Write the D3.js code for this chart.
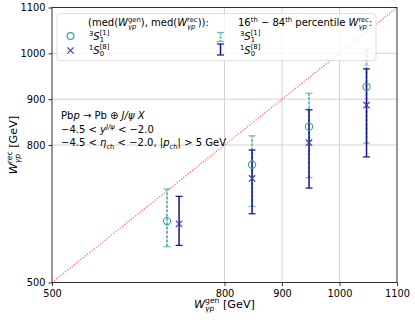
<!DOCTYPE html>
<html>
<head>
<meta charset="utf-8">
<script src="https://cdn.jsdelivr.net/npm/d3@7"></script>
<style>
  body { margin: 0; background: #fff; }
  svg { font-family: "DejaVu Sans", sans-serif; }
</style>
</head>
<body>
<div class="chart"></div>
<script>
// W_gen vs W_rec medians with 16-84 percentile bars
var svgWidth = 415;
var svgHeight = 320;

var margin = { top: 7.5, right: 18, bottom: 37.5, left: 52 };
var width = svgWidth - margin.left - margin.right;
var height = svgHeight - margin.top - margin.bottom;

// data
var ticks = [500, 800, 900, 1000, 1100];
var gridTicks = [800, 900, 1000];
var diagonal = [500, 1100];

// 3S1[1]
var genCS = [700, 848, 947, 1047];
var recCS = [634, 757, 840, 927];
var lowCS = [578, 666, 729, 804];
var highCS = [704, 820, 913, 1009];

// 1S0[8]
var genCO = [721, 848, 947, 1047];
var recCO = [628, 727, 805, 887];
var lowCO = [581, 650, 706, 774];
var highCO = [688, 789, 877, 966];

var colCS = "#3a9e9e";
var colCSbar = "#6cbaba";
var colCO = "#3b3ba8";
var colCObar = "#12128a";

var svg = d3.select(".chart").append("svg")
  .attr("width", svgWidth)
  .attr("height", svgHeight);

var chartGroup = svg.append("g")
  .attr("transform", `translate(${margin.left}, ${margin.top})`);

var x = d3.scaleLinear().domain([500, 1100]).range([0, width]);
var y = d3.scaleLinear().domain([500, 1100]).range([height, 0]);

// lays out pieces of math text one after another, measuring each one
// part: {t, i (italic), sup, sub, stack (don't advance, next piece sits below)}
function rich(parent, x0, y0, parts, size, anchor) {
  var g = parent.append("g");
  var cx = 0, lastW = 0;
  parts.forEach(function (p) {
    var fs = (p.sup || p.sub) ? size * 0.68 : size;
    var dy = 0;
    if (p.sup) dy = -size * (p.up || 0.45);
    if (p.sub) dy = size * 0.25;
    var t = g.append("text")
      .attr("x", cx).attr("y", dy)
      .attr("font-size", fs)
      .text(p.t);
    if (p.i) t.attr("font-style", "italic");
    var w = t.node().getComputedTextLength();
    if (p.stack) {
      lastW = w;
    } else {
      cx += Math.max(w, lastW);
      lastW = 0;
    }
  });
  var shift = anchor === "middle" ? -cx / 2 : 0;
  g.attr("transform", `translate(${x0 + shift}, ${y0})`);
  return g;
}

// grid
chartGroup.selectAll(".vgrid").data(gridTicks).enter().append("line")
  .attr("x1", d => x(d)).attr("x2", d => x(d))
  .attr("y1", 0).attr("y2", height)
  .attr("stroke", "#d4d4d4").attr("stroke-width", 1);
chartGroup.selectAll(".hgrid").data(gridTicks).enter().append("line")
  .attr("y1", d => y(d)).attr("y2", d => y(d))
  .attr("x1", 0).attr("x2", width)
  .attr("stroke", "#d4d4d4").attr("stroke-width", 1);

// diagonal y = x
chartGroup.append("line")
  .attr("x1", x(diagonal[0])).attr("y1", y(diagonal[0]))
  .attr("x2", x(diagonal[1])).attr("y2", y(diagonal[1]))
  .attr("stroke", "#ff3333").attr("stroke-opacity", 0.8)
  .attr("stroke-width", 1.2).attr("stroke-dasharray", "1.2,1.6");

// error bars
function errorBars(gen, low, high, color, dash, sw) {
  var g = chartGroup.append("g");
  gen.forEach(function (gv, i) {
    g.append("line")
      .attr("x1", x(gv)).attr("x2", x(gv))
      .attr("y1", y(low[i])).attr("y2", y(high[i]))
      .attr("stroke", color).attr("stroke-width", sw)
      .attr("stroke-dasharray", dash);
    [low[i], high[i]].forEach(function (v) {
      g.append("line")
        .attr("x1", x(gv) - 3.5).attr("x2", x(gv) + 3.5)
        .attr("y1", y(v)).attr("y2", y(v))
        .attr("stroke", color).attr("stroke-width", 1.2);
    });
  });
}
errorBars(genCS, lowCS, highCS, colCSbar, "3,1.3", 2);
errorBars(genCO, lowCO, highCO, colCObar, null, 1.5);

// markers
chartGroup.selectAll(".cs").data(genCS).enter().append("circle")
  .attr("cx", d => x(d))
  .attr("cy", (d, i) => y(recCS[i]))
  .attr("r", 3.6)
  .attr("fill", "none").attr("stroke", colCS).attr("stroke-width", 1.1);

function xMark(g, cx, cy, s, color) {
  g.append("path")
    .attr("d", `M${cx - s},${cy - s}L${cx + s},${cy + s}M${cx - s},${cy + s}L${cx + s},${cy - s}`)
    .attr("stroke", color).attr("stroke-width", 1.1).attr("fill", "none");
}
genCO.forEach(function (d, i) {
  xMark(chartGroup, x(d), y(recCO[i]), 3.2, colCO);
});

// axes
var bottomAxis = d3.axisBottom(x).tickValues(ticks).tickFormat(d3.format("d"))
  .tickSize(3.5).tickSizeOuter(0);
var leftAxis = d3.axisLeft(y).tickValues(ticks).tickFormat(d3.format("d"))
  .tickSize(3.5).tickSizeOuter(0);

var xAxis = chartGroup.append("g")
  .attr("transform", `translate(0, ${height})`)
  .call(bottomAxis);
var yAxis = chartGroup.append("g").call(leftAxis);
[xAxis, yAxis].forEach(function (a) {
  a.selectAll("text").attr("font-size", 9.8).attr("fill", "#000")
    .attr("font-family", "DejaVu Sans");
  a.selectAll("line").attr("stroke", "#000").attr("stroke-width", 0.8);
  a.select(".domain").remove();
});
xAxis.selectAll("text").attr("dy", "0.85em");

// spines
chartGroup.append("rect")
  .attr("width", width).attr("height", height)
  .attr("fill", "none").attr("stroke", "#000").attr("stroke-width", 0.8);

// axis labels
var wgen = [{ t: "W", i: true }, { t: "gen", sup: true, stack: true }, { t: "γp", sub: true, i: true }];
var wrec = [{ t: "W", i: true }, { t: "rec", sup: true, stack: true }, { t: "γp", sub: true, i: true }];

rich(svg, margin.left + width / 2, 308, wgen.concat([{ t: "\u00a0[GeV]" }]), 11.2, "middle");
var yl = rich(svg, 0, 0, wrec.concat([{ t: "\u00a0[GeV]" }]), 11.2, "middle");
var ylw = yl.node().getBBox().width;
yl.attr("transform", `translate(17, ${margin.top + height / 2 + ylw / 2}) rotate(-90)`);

// annotation
rich(svg, 61, 119, [{ t: "Pb" }, { t: "p", i: true }, { t: "\u00a0→\u00a0Pb\u00a0⊕\u00a0" },
  { t: "J/ψ\u00a0X", i: true }], 10);
rich(svg, 61, 132.5, [{ t: "−4.5\u00a0<\u00a0" }, { t: "y", i: true },
  { t: "J/ψ", sup: true, i: true, up: 0.38 }, { t: "\u00a0<\u00a0−2.0" }], 10);
rich(svg, 61, 146, [{ t: "−4.5\u00a0<\u00a0" }, { t: "η", i: true }, { t: "ch", sub: true },
  { t: "\u00a0<\u00a0−2.0,\u00a0|" }, { t: "p", i: true }, { t: "ch", sub: true },
  { t: "|\u00a0>\u00a05\u00a0GeV" }], 10);

// legend
var lg = svg.append("g");
lg.append("rect")
  .attr("x", 57).attr("y", 13.5).attr("width", 319).attr("height", 47).attr("rx", 2.5)
  .attr("fill", "#fff").attr("fill-opacity", 0.8)
  .attr("stroke", "#d8d8d8").attr("stroke-width", 0.8);

rich(lg, 88, 26, [{ t: "(med(" }].concat(wgen, [{ t: "),\u00a0med(" }], wrec, [{ t: ")):" }]), 10);
rich(lg, 238, 26, [{ t: "16" }, { t: "th", sup: true }, { t: "\u00a0−\u00a084" }, { t: "th", sup: true },
  { t: "\u00a0percentile\u00a0" }].concat(wrec, [{ t: ":" }]), 10);

function stateLabel(xp, yp, pre, sub, sup) {
  rich(lg, xp, yp, [{ t: pre, sup: true, up: 0.38 }, { t: "S", i: true },
    { t: sup, sup: true, up: 0.5, stack: true }, { t: sub, sub: true }], 10);
}

// legend markers
lg.append("circle").attr("cx", 70.5).attr("cy", 36).attr("r", 3.4)
  .attr("fill", "none").attr("stroke", colCS).attr("stroke-width", 1.1);
xMark(lg, 70.5, 50.5, 3.2, colCO);
stateLabel(89, 39.5, "3", "1", "[1]");
stateLabel(89, 53.5, "1", "0", "[8]");

// legend error bars
function legendBar(cx, y1, y2, color, dash, sw) {
  lg.append("line").attr("x1", cx).attr("x2", cx).attr("y1", y1).attr("y2", y2)
    .attr("stroke", color).attr("stroke-width", sw).attr("stroke-dasharray", dash);
  [y1, y2].forEach(function (v) {
    lg.append("line").attr("x1", cx - 3.5).attr("x2", cx + 3.5).attr("y1", v).attr("y2", v)
      .attr("stroke", color).attr("stroke-width", 1.2);
  });
}
legendBar(220.5, 32.5, 41.5, colCSbar, "2.5,1.3", 2);
legendBar(220.5, 44, 55, colCObar, null, 1.5);
stateLabel(240, 39.5, "3", "1", "[1]");
stateLabel(240, 53.5, "1", "0", "[8]");
</script>
</body>
</html>
